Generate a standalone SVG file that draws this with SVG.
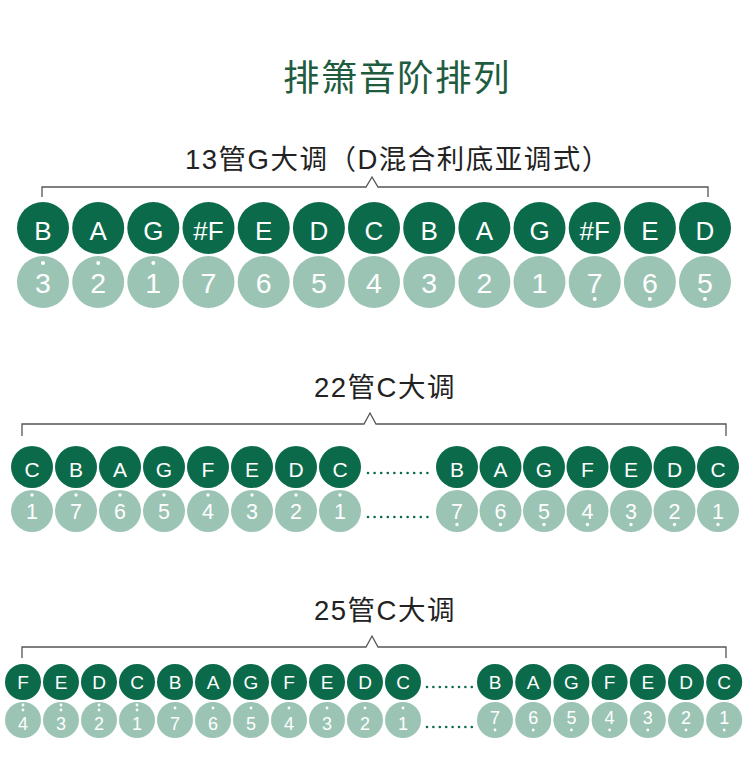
<svg xmlns="http://www.w3.org/2000/svg" width="750" height="771" viewBox="0 0 750 771">
<style>
.d{fill:#0b6a4a}
.l{fill:#9cc4b5}
.w{fill:#ffffff}
.lt{font-family:"Liberation Sans",Arial,sans-serif;fill:#ffffff;text-anchor:middle}
.r1a{font-size:26px}.r1b{font-size:28.5px}
.r2a{font-size:21px}.r2b{font-size:21.5px}
.r3a{font-size:19px}.r3b{font-size:18px}
.sub{font-family:"Liberation Sans","Noto Sans CJK SC",sans-serif;font-size:27.5px;fill:#222222;letter-spacing:1.5px}
.title{font-family:"Noto Sans CJK SC",sans-serif;font-size:36.5px;fill:#1f5c3f;letter-spacing:1.5px}
.br{fill:none;stroke:#555555;stroke-width:1.3}
.dots{stroke:#0b6a4a;stroke-width:2.6;stroke-linecap:round;fill:none}
</style>
<text class="title" x="283" y="91">排箫音阶排列</text>
<text class="sub" x="185" y="169">13管G大调（D混合利底亚调式）</text>
<text class="sub" x="314" y="397">22管C大调</text>
<text class="sub" x="314" y="620">25管C大调</text>
<g id="connectors">
<path class="br" d="M42,197 V187 H366 L372,177 L378,187 H708 V197"/>
<path class="br" d="M22,436 V424 H364 L370,413 L376,424 H726 V436"/>
<path class="br" d="M22,658 V647 H366 L372,636 L378,647 H726 V658"/>
<line class="dots" x1="368" y1="473" x2="428" y2="473" stroke-dasharray="0 6.6"/>
<line class="dots" x1="368" y1="517" x2="428" y2="517" stroke-dasharray="0 6.6"/>
<line class="dots" x1="427" y1="687" x2="472" y2="687" stroke-dasharray="0 6.4"/>
<line class="dots" x1="427" y1="727" x2="472" y2="727" stroke-dasharray="0 6.4"/>
</g>
<!-- Row 1 -->
<g id="r1n1"><circle class="d" cx="43" cy="228" r="26"/><text class="lt r1a" x="43" y="239.5">B</text><circle class="l" cx="43" cy="282" r="26"/><text class="lt r1b" x="43" y="293">3</text><circle class="w" cx="43" cy="263" r="2"/></g>
<g id="r1n2"><circle class="d" cx="98.2" cy="228" r="26"/><text class="lt r1a" x="98.2" y="239.5">A</text><circle class="l" cx="98.2" cy="282" r="26"/><text class="lt r1b" x="98.2" y="293">2</text><circle class="w" cx="98.2" cy="263" r="2"/></g>
<g id="r1n3"><circle class="d" cx="153.3" cy="228" r="26"/><text class="lt r1a" x="153.3" y="239.5">G</text><circle class="l" cx="153.3" cy="282" r="26"/><text class="lt r1b" x="153.3" y="293">1</text><circle class="w" cx="153.3" cy="263" r="2"/></g>
<g id="r1n4"><circle class="d" cx="208.5" cy="228" r="26"/><text class="lt r1a" x="208.5" y="239.5">#F</text><circle class="l" cx="208.5" cy="282" r="26"/><text class="lt r1b" x="208.5" y="293">7</text></g>
<g id="r1n5"><circle class="d" cx="263.7" cy="228" r="26"/><text class="lt r1a" x="263.7" y="239.5">E</text><circle class="l" cx="263.7" cy="282" r="26"/><text class="lt r1b" x="263.7" y="293">6</text></g>
<g id="r1n6"><circle class="d" cx="318.9" cy="228" r="26"/><text class="lt r1a" x="318.9" y="239.5">D</text><circle class="l" cx="318.9" cy="282" r="26"/><text class="lt r1b" x="318.9" y="293">5</text></g>
<g id="r1n7"><circle class="d" cx="374" cy="228" r="26"/><text class="lt r1a" x="374" y="239.5">C</text><circle class="l" cx="374" cy="282" r="26"/><text class="lt r1b" x="374" y="293">4</text></g>
<g id="r1n8"><circle class="d" cx="429.2" cy="228" r="26"/><text class="lt r1a" x="429.2" y="239.5">B</text><circle class="l" cx="429.2" cy="282" r="26"/><text class="lt r1b" x="429.2" y="293">3</text></g>
<g id="r1n9"><circle class="d" cx="484.4" cy="228" r="26"/><text class="lt r1a" x="484.4" y="239.5">A</text><circle class="l" cx="484.4" cy="282" r="26"/><text class="lt r1b" x="484.4" y="293">2</text></g>
<g id="r1n10"><circle class="d" cx="539.5" cy="228" r="26"/><text class="lt r1a" x="539.5" y="239.5">G</text><circle class="l" cx="539.5" cy="282" r="26"/><text class="lt r1b" x="539.5" y="293">1</text></g>
<g id="r1n11"><circle class="d" cx="594.7" cy="228" r="26"/><text class="lt r1a" x="594.7" y="239.5">#F</text><circle class="l" cx="594.7" cy="282" r="26"/><text class="lt r1b" x="594.7" y="293">7</text><circle class="w" cx="594.7" cy="299" r="2"/></g>
<g id="r1n12"><circle class="d" cx="649.9" cy="228" r="26"/><text class="lt r1a" x="649.9" y="239.5">E</text><circle class="l" cx="649.9" cy="282" r="26"/><text class="lt r1b" x="649.9" y="293">6</text><circle class="w" cx="649.9" cy="299" r="2"/></g>
<g id="r1n13"><circle class="d" cx="705" cy="228" r="26"/><text class="lt r1a" x="705" y="239.5">D</text><circle class="l" cx="705" cy="282" r="26"/><text class="lt r1b" x="705" y="293">5</text><circle class="w" cx="705" cy="299" r="2"/></g>
<!-- Row 2 -->
<g id="r2n1"><circle class="d" cx="32" cy="467" r="21"/><text class="lt r2a" x="32" y="476.5">C</text><circle class="l" cx="32" cy="511" r="21"/><text class="lt r2b" x="32" y="518.5">1</text><circle class="w" cx="32" cy="495" r="1.7"/></g>
<g id="r2n2"><circle class="d" cx="76" cy="467" r="21"/><text class="lt r2a" x="76" y="476.5">B</text><circle class="l" cx="76" cy="511" r="21"/><text class="lt r2b" x="76" y="518.5">7</text><circle class="w" cx="76" cy="495" r="1.7"/></g>
<g id="r2n3"><circle class="d" cx="120" cy="467" r="21"/><text class="lt r2a" x="120" y="476.5">A</text><circle class="l" cx="120" cy="511" r="21"/><text class="lt r2b" x="120" y="518.5">6</text><circle class="w" cx="120" cy="495" r="1.7"/></g>
<g id="r2n4"><circle class="d" cx="164" cy="467" r="21"/><text class="lt r2a" x="164" y="476.5">G</text><circle class="l" cx="164" cy="511" r="21"/><text class="lt r2b" x="164" y="518.5">5</text><circle class="w" cx="164" cy="495" r="1.7"/></g>
<g id="r2n5"><circle class="d" cx="208" cy="467" r="21"/><text class="lt r2a" x="208" y="476.5">F</text><circle class="l" cx="208" cy="511" r="21"/><text class="lt r2b" x="208" y="518.5">4</text><circle class="w" cx="208" cy="495" r="1.7"/></g>
<g id="r2n6"><circle class="d" cx="252" cy="467" r="21"/><text class="lt r2a" x="252" y="476.5">E</text><circle class="l" cx="252" cy="511" r="21"/><text class="lt r2b" x="252" y="518.5">3</text><circle class="w" cx="252" cy="495" r="1.7"/></g>
<g id="r2n7"><circle class="d" cx="296" cy="467" r="21"/><text class="lt r2a" x="296" y="476.5">D</text><circle class="l" cx="296" cy="511" r="21"/><text class="lt r2b" x="296" y="518.5">2</text><circle class="w" cx="296" cy="495" r="1.7"/></g>
<g id="r2n8"><circle class="d" cx="340" cy="467" r="21"/><text class="lt r2a" x="340" y="476.5">C</text><circle class="l" cx="340" cy="511" r="21"/><text class="lt r2b" x="340" y="518.5">1</text><circle class="w" cx="340" cy="495" r="1.7"/></g>
<g id="r2n9"><circle class="d" cx="457" cy="467" r="21"/><text class="lt r2a" x="457" y="476.5">B</text><circle class="l" cx="457" cy="511" r="21"/><text class="lt r2b" x="457" y="518.5">7</text><circle class="w" cx="457" cy="524.5" r="1.7"/></g>
<g id="r2n10"><circle class="d" cx="500.5" cy="467" r="21"/><text class="lt r2a" x="500.5" y="476.5">A</text><circle class="l" cx="500.5" cy="511" r="21"/><text class="lt r2b" x="500.5" y="518.5">6</text><circle class="w" cx="500.5" cy="524.5" r="1.7"/></g>
<g id="r2n11"><circle class="d" cx="544" cy="467" r="21"/><text class="lt r2a" x="544" y="476.5">G</text><circle class="l" cx="544" cy="511" r="21"/><text class="lt r2b" x="544" y="518.5">5</text><circle class="w" cx="544" cy="524.5" r="1.7"/></g>
<g id="r2n12"><circle class="d" cx="587.5" cy="467" r="21"/><text class="lt r2a" x="587.5" y="476.5">F</text><circle class="l" cx="587.5" cy="511" r="21"/><text class="lt r2b" x="587.5" y="518.5">4</text><circle class="w" cx="587.5" cy="524.5" r="1.7"/></g>
<g id="r2n13"><circle class="d" cx="631" cy="467" r="21"/><text class="lt r2a" x="631" y="476.5">E</text><circle class="l" cx="631" cy="511" r="21"/><text class="lt r2b" x="631" y="518.5">3</text><circle class="w" cx="631" cy="524.5" r="1.7"/></g>
<g id="r2n14"><circle class="d" cx="674.5" cy="467" r="21"/><text class="lt r2a" x="674.5" y="476.5">D</text><circle class="l" cx="674.5" cy="511" r="21"/><text class="lt r2b" x="674.5" y="518.5">2</text><circle class="w" cx="674.5" cy="524.5" r="1.7"/></g>
<g id="r2n15"><circle class="d" cx="718" cy="467" r="21"/><text class="lt r2a" x="718" y="476.5">C</text><circle class="l" cx="718" cy="511" r="21"/><text class="lt r2b" x="718" y="518.5">1</text><circle class="w" cx="718" cy="524.5" r="1.7"/></g>
<!-- Row 3 -->
<g id="r3n1"><circle class="d" cx="23" cy="682" r="18"/><text class="lt r3a" x="23" y="688.8">F</text><circle class="l" cx="23" cy="720" r="18"/><text class="lt r3b" x="23" y="730">4</text><circle class="w" cx="23" cy="705" r="1.4"/><circle class="w" cx="23" cy="710" r="1.4"/></g>
<g id="r3n2"><circle class="d" cx="61" cy="682" r="18"/><text class="lt r3a" x="61" y="688.8">E</text><circle class="l" cx="61" cy="720" r="18"/><text class="lt r3b" x="61" y="730">3</text><circle class="w" cx="61" cy="705" r="1.4"/><circle class="w" cx="61" cy="710" r="1.4"/></g>
<g id="r3n3"><circle class="d" cx="99" cy="682" r="18"/><text class="lt r3a" x="99" y="688.8">D</text><circle class="l" cx="99" cy="720" r="18"/><text class="lt r3b" x="99" y="730">2</text><circle class="w" cx="99" cy="705" r="1.4"/><circle class="w" cx="99" cy="710" r="1.4"/></g>
<g id="r3n4"><circle class="d" cx="137" cy="682" r="18"/><text class="lt r3a" x="137" y="688.8">C</text><circle class="l" cx="137" cy="720" r="18"/><text class="lt r3b" x="137" y="730">1</text><circle class="w" cx="137" cy="705" r="1.4"/><circle class="w" cx="137" cy="710" r="1.4"/></g>
<g id="r3n5"><circle class="d" cx="175" cy="682" r="18"/><text class="lt r3a" x="175" y="688.8">B</text><circle class="l" cx="175" cy="720" r="18"/><text class="lt r3b" x="175" y="730">7</text><circle class="w" cx="175" cy="708" r="1.4"/></g>
<g id="r3n6"><circle class="d" cx="213" cy="682" r="18"/><text class="lt r3a" x="213" y="688.8">A</text><circle class="l" cx="213" cy="720" r="18"/><text class="lt r3b" x="213" y="730">6</text><circle class="w" cx="213" cy="708" r="1.4"/></g>
<g id="r3n7"><circle class="d" cx="251" cy="682" r="18"/><text class="lt r3a" x="251" y="688.8">G</text><circle class="l" cx="251" cy="720" r="18"/><text class="lt r3b" x="251" y="730">5</text><circle class="w" cx="251" cy="708" r="1.4"/></g>
<g id="r3n8"><circle class="d" cx="289" cy="682" r="18"/><text class="lt r3a" x="289" y="688.8">F</text><circle class="l" cx="289" cy="720" r="18"/><text class="lt r3b" x="289" y="730">4</text><circle class="w" cx="289" cy="708" r="1.4"/></g>
<g id="r3n9"><circle class="d" cx="327" cy="682" r="18"/><text class="lt r3a" x="327" y="688.8">E</text><circle class="l" cx="327" cy="720" r="18"/><text class="lt r3b" x="327" y="730">3</text><circle class="w" cx="327" cy="708" r="1.4"/></g>
<g id="r3n10"><circle class="d" cx="365" cy="682" r="18"/><text class="lt r3a" x="365" y="688.8">D</text><circle class="l" cx="365" cy="720" r="18"/><text class="lt r3b" x="365" y="730">2</text><circle class="w" cx="365" cy="708" r="1.4"/></g>
<g id="r3n11"><circle class="d" cx="403" cy="682" r="18"/><text class="lt r3a" x="403" y="688.8">C</text><circle class="l" cx="403" cy="720" r="18"/><text class="lt r3b" x="403" y="730">1</text><circle class="w" cx="403" cy="708" r="1.4"/></g>
<g id="r3n12"><circle class="d" cx="495" cy="682" r="18"/><text class="lt r3a" x="495" y="688.8">B</text><circle class="l" cx="495" cy="720" r="18"/><text class="lt r3b" x="495" y="723.5">7</text><circle class="w" cx="495" cy="730" r="1.4"/></g>
<g id="r3n13"><circle class="d" cx="533.2" cy="682" r="18"/><text class="lt r3a" x="533.2" y="688.8">A</text><circle class="l" cx="533.2" cy="720" r="18"/><text class="lt r3b" x="533.2" y="723.5">6</text><circle class="w" cx="533.2" cy="730" r="1.4"/></g>
<g id="r3n14"><circle class="d" cx="571.4" cy="682" r="18"/><text class="lt r3a" x="571.4" y="688.8">G</text><circle class="l" cx="571.4" cy="720" r="18"/><text class="lt r3b" x="571.4" y="723.5">5</text><circle class="w" cx="571.4" cy="730" r="1.4"/></g>
<g id="r3n15"><circle class="d" cx="609.6" cy="682" r="18"/><text class="lt r3a" x="609.6" y="688.8">F</text><circle class="l" cx="609.6" cy="720" r="18"/><text class="lt r3b" x="609.6" y="723.5">4</text><circle class="w" cx="609.6" cy="730" r="1.4"/></g>
<g id="r3n16"><circle class="d" cx="647.8" cy="682" r="18"/><text class="lt r3a" x="647.8" y="688.8">E</text><circle class="l" cx="647.8" cy="720" r="18"/><text class="lt r3b" x="647.8" y="723.5">3</text><circle class="w" cx="647.8" cy="730" r="1.4"/></g>
<g id="r3n17"><circle class="d" cx="686" cy="682" r="18"/><text class="lt r3a" x="686" y="688.8">D</text><circle class="l" cx="686" cy="720" r="18"/><text class="lt r3b" x="686" y="723.5">2</text><circle class="w" cx="686" cy="730" r="1.4"/></g>
<g id="r3n18"><circle class="d" cx="724.2" cy="682" r="18"/><text class="lt r3a" x="724.2" y="688.8">C</text><circle class="l" cx="724.2" cy="720" r="18"/><text class="lt r3b" x="724.2" y="723.5">1</text><circle class="w" cx="724.2" cy="730" r="1.4"/></g>
</svg>
